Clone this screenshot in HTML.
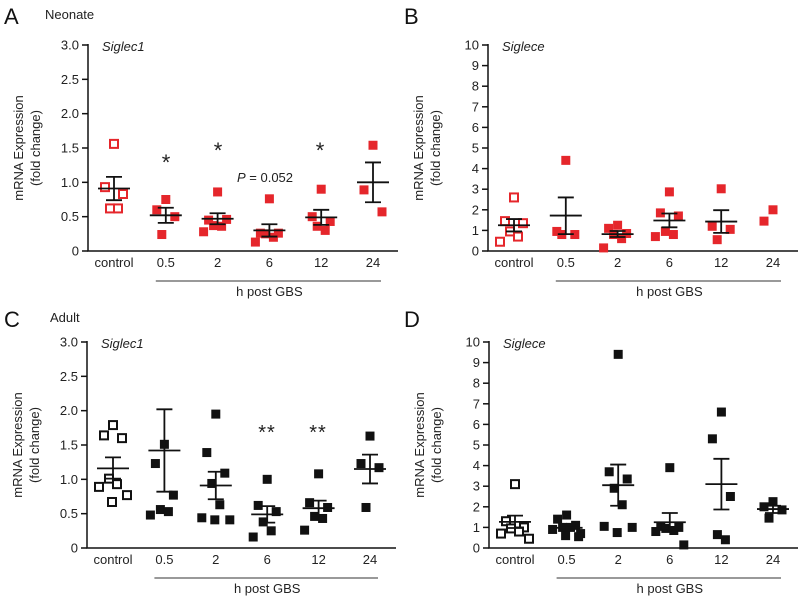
<!DOCTYPE html>
<html><head><meta charset="utf-8"><style>
html,body{margin:0;padding:0;background:#fff;}
svg{display:block;font-family:"Liberation Sans",Arial,sans-serif;}
</style></head><body>
<svg id="fig" width="800" height="597" viewBox="0 0 800 597">
<g font-size="22" fill="#111">
<text x="4" y="24">A</text>
<text x="404" y="24">B</text>
<text x="4" y="327">C</text>
<text x="404" y="327">D</text>
</g>
<text x="45" y="19" font-size="13" fill="#222">Neonate</text>
<text x="50" y="322" font-size="13" fill="#222">Adult</text>
<g font-size="22" fill="#222">
<text x="166" y="170" text-anchor="middle">*</text>
<text x="218" y="158" text-anchor="middle">*</text>
<text x="320" y="158" text-anchor="middle">*</text>
<text x="237" y="182" font-size="13"><tspan font-style="italic">P</tspan> = 0.052</text>
<text x="267" y="439" font-size="20" text-anchor="middle" letter-spacing="1">**</text>
<text x="318" y="439" font-size="20" text-anchor="middle" letter-spacing="1">**</text>
</g>
</svg>
<script>
const categories = ["control","0.5","2","6","12","24"];
const aTicks = ["0","0.5","1.0","1.5","2.0","2.5","3.0"];
const aTickVals = [0,0.5,1,1.5,2,2.5,3];
const bTicks = ["0","1","2","3","4","5","6","7","8","9","10"];
const bTickVals = [0,1,2,3,4,5,6,7,8,9,10];

const aPoints = [[1.56,0.93,0.83,0.62,0.62],[0.75,0.60,0.50,0.24],[0.86,0.45,0.46,0.37,0.36,0.28],[0.76,0.26,0.26,0.25,0.20,0.13],[0.90,0.50,0.43,0.36,0.30],[1.54,0.89,0.57]];
const aMeans = [0.91,0.52,0.47,0.30,0.49,1.00];
const aLow = [0.74,0.41,0.39,0.21,0.38,0.71];
const aHigh = [1.08,0.63,0.55,0.39,0.60,1.29];

const bPoints = [[2.6,1.45,1.35,0.95,0.7,0.45],[4.4,0.95,0.8,0.8],[1.25,1.1,0.85,0.8,0.6,0.15],[2.87,1.85,1.7,0.95,0.8,0.7],[3.02,1.2,1.05,0.55],[2.0,1.45]];
const bMeans = [1.25,1.72,0.82,1.48,1.43,null];
const bLow = [0.95,0.82,0.68,1.15,0.88,null];
const bHigh = [1.55,2.6,0.97,1.82,1.98,null];

const cPoints = [[1.79,1.64,1.60,1.01,0.93,0.89,0.77,0.67],[1.51,1.23,0.77,0.56,0.53,0.48],[1.95,1.39,1.09,0.94,0.63,0.44,0.41,0.41],[1.00,0.62,0.53,0.38,0.25,0.16],[1.08,0.66,0.59,0.46,0.43,0.26],[1.63,1.23,1.17,0.59]];
const cMeans = [1.16,1.42,0.91,0.49,0.58,1.15];
const cLow = [1.01,0.82,0.71,0.37,0.47,0.94];
const cHigh = [1.32,2.02,1.11,0.61,0.69,1.36];

const dPoints = [[3.1,1.3,1.0,0.95,0.8,0.7,0.45],[1.6,1.4,1.1,1.0,1.0,0.9,0.7,0.6,0.55],[9.4,3.7,3.35,2.9,2.1,1.05,1.0,0.75],[3.9,1.05,1.0,0.95,0.85,0.8,0.15],[6.6,5.3,2.5,0.65,0.4],[2.25,2.0,1.85,1.45]];
const dMeans = [1.27,0.98,3.05,1.25,3.1,1.89];
const dLow = [0.97,0.85,2.05,0.85,1.87,1.7];
const dHigh = [1.57,1.1,4.05,1.7,4.33,2.05];

const NS = "http://www.w3.org/2000/svg";
const svg = document.getElementById("fig");
function mk(tag, attrs, parent){const e=document.createElementNS(NS,tag);for(const k in attrs)e.setAttribute(k,attrs[k]);(parent||svg).appendChild(e);return e;}
const jit = [0,-9,9,-4,4,-14,14,-1,12];

function panel(id, cfg, points, means, lows, highs, ticks, tickVals, color){
  const g = mk("g",{});
  
  
  const ox=cfg.ox, y0=cfg.y0, yT=cfg.yT, ymax=cfg.ymax;
  const Y = v => y0 - (v/ymax)*(y0-yT);
  const X = i => cfg.x0 + i*cfg.dx;
  const ax = mk("path",{d:`M${ox},${yT-1}V${y0}H${cfg.xEnd}`,stroke:"#111","stroke-width":1.5,fill:"none"},g);
  
  
  ticks.forEach((t,i)=>{
    const y=Y(tickVals[i]);
    const tk=mk("line",{x1:ox-6,x2:ox,y1:y,y2:y,stroke:"#111","stroke-width":1.5},g);
    
    
    const tl=mk("text",{x:ox-9,y:y+4.5,"text-anchor":"end","font-size":13,fill:"#222"},g);
    tl.textContent=t;
    
    
  });
  categories.forEach((c,i)=>{
    const tl=mk("text",{x:X(i),y:y0+16,"text-anchor":"middle","font-size":13,fill:"#222"},g);
    tl.textContent=c;
    
    
  });
  const ul=mk("line",{x1:X(1)-10,x2:X(5)+8,y1:y0+30,y2:y0+30,stroke:"#333","stroke-width":1},g);
  
  
  const xt=mk("text",{x:(X(1)+X(5))/2,y:y0+45,"text-anchor":"middle","font-size":13,fill:"#222"},g);
  xt.textContent="h post GBS";
  
  
  const yc=(y0+yT)/2;
  const yl=mk("text",{x:0,y:0,"text-anchor":"middle","font-size":13,fill:"#222",transform:`translate(${ox-65},${yc}) rotate(-90)`},g);
  yl.textContent="mRNA Expression";
  
  
  const yl2=mk("text",{x:0,y:0,"text-anchor":"middle","font-size":13,fill:"#222",transform:`translate(${ox-48},${yc}) rotate(-90)`},g);
  yl2.textContent="(fold change)";
  
  
  const gt=mk("text",{x:ox+14,y:yT+6,"font-size":13,"font-style":"italic",fill:"#222"},g);
  gt.textContent=cfg.gene;
  
  
  points.forEach((arr,i)=>{
    arr.forEach((v,j)=>{
      const cx=X(i)+jit[j%jit.length], cy=Y(v);
      let m;
      if(i===0) m=mk("rect",{x:cx-4,y:cy-4,width:8,height:8,fill:"#fff",stroke:color,"stroke-width":2},g);
      else m=mk("rect",{x:cx-4.5,y:cy-4.5,width:9,height:9,fill:color},g);
      
      
    });
    if(means[i]!==null){
      const x=X(i);
      const ml=mk("line",{x1:x-16,x2:x+16,y1:Y(means[i]),y2:Y(means[i]),stroke:"#111","stroke-width":1.8},g);
      
      
      const eb=mk("path",{d:`M${x},${Y(lows[i])}V${Y(highs[i])}M${x-8},${Y(lows[i])}H${x+8}M${x-8},${Y(highs[i])}H${x+8}`,stroke:"#111","stroke-width":1.8,fill:"none"},g);
      
      
    }
  });
}
const red="#e5262b", blk="#111";
panel("a",{ox:88,y0:251,yT:45,ymax:3,x0:114,dx:51.8,xEnd:398,gene:"Siglec1"},aPoints,aMeans,aLow,aHigh,aTicks,aTickVals,red);
panel("b",{ox:488,y0:251,yT:45,ymax:10,x0:514,dx:51.8,xEnd:798,gene:"Siglece"},bPoints,bMeans,bLow,bHigh,bTicks,bTickVals,red);
panel("c",{ox:87,y0:548,yT:342,ymax:3,x0:113,dx:51.4,xEnd:396,gene:"Siglec1"},cPoints,cMeans,cLow,cHigh,aTicks,aTickVals,blk);
panel("d",{ox:489,y0:548,yT:342,ymax:10,x0:515,dx:51.6,xEnd:798,gene:"Siglece"},dPoints,dMeans,dLow,dHigh,bTicks,bTickVals,blk);
</script>
</body></html>
